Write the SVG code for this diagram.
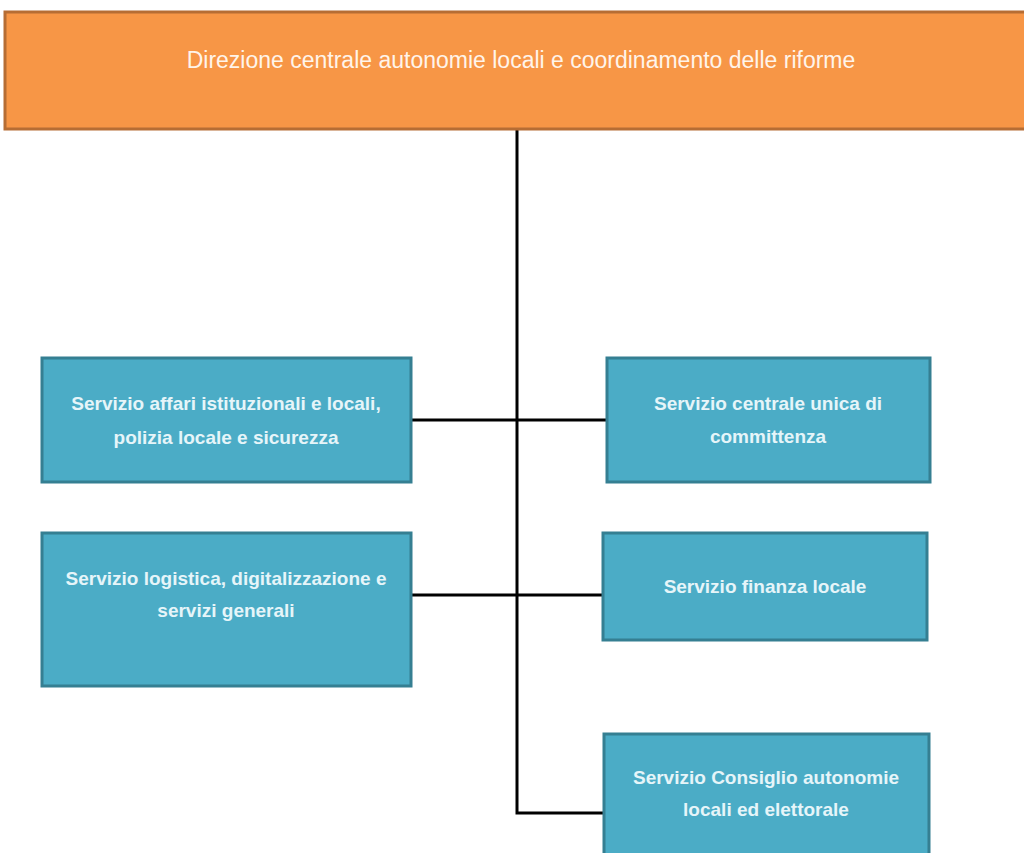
<svg xmlns="http://www.w3.org/2000/svg" width="1024" height="853" viewBox="0 0 1024 853">
<style>
.head{fill:#F79646;stroke:#B66D34;stroke-width:3}
.box{fill:#4BACC6;stroke:#357F92;stroke-width:3}
.ht{font-family:"Liberation Sans",Arial,sans-serif;font-size:23px;fill:#FFF4EA;text-anchor:middle}
.bt{font-family:"Liberation Sans",Arial,sans-serif;font-size:19px;font-weight:bold;fill:#E6F5F9;text-anchor:middle}
.conn{fill:none;stroke:#000;stroke-width:3}
</style>
<rect width="1024" height="853" fill="#fff"/>
<g id="connectors">
<path class="conn" d="M517,130 V813 H603"/>
<path class="conn" d="M411,420 H606"/>
<path class="conn" d="M411,595 H603"/>
</g>
<g id="n0">
<rect class="head" x="5" y="12" width="1030" height="117"/>
<text class="ht" x="521" y="68">Direzione centrale autonomie locali e coordinamento delle riforme</text>
</g>
<g id="n1">
<rect class="box" x="42" y="358" width="369" height="124"/>
<text class="bt" x="226" y="410">Servizio affari istituzionali e locali,</text>
<text class="bt" x="226" y="444">polizia locale e sicurezza</text>
</g>
<g id="n2">
<rect class="box" x="607" y="358" width="323" height="124"/>
<text class="bt" x="768" y="410">Servizio centrale unica di</text>
<text class="bt" x="768" y="443">committenza</text>
</g>
<g id="n3">
<rect class="box" x="42" y="533" width="369" height="153"/>
<text class="bt" x="226" y="585">Servizio logistica, digitalizzazione e</text>
<text class="bt" x="226" y="617">servizi generali</text>
</g>
<g id="n4">
<rect class="box" x="603" y="533" width="324" height="107"/>
<text class="bt" x="765" y="593">Servizio finanza locale</text>
</g>
<g id="n5">
<rect class="box" x="604" y="734" width="325" height="130"/>
<text class="bt" x="766" y="784">Servizio Consiglio autonomie</text>
<text class="bt" x="766" y="816">locali ed elettorale</text>
</g>
</svg>
